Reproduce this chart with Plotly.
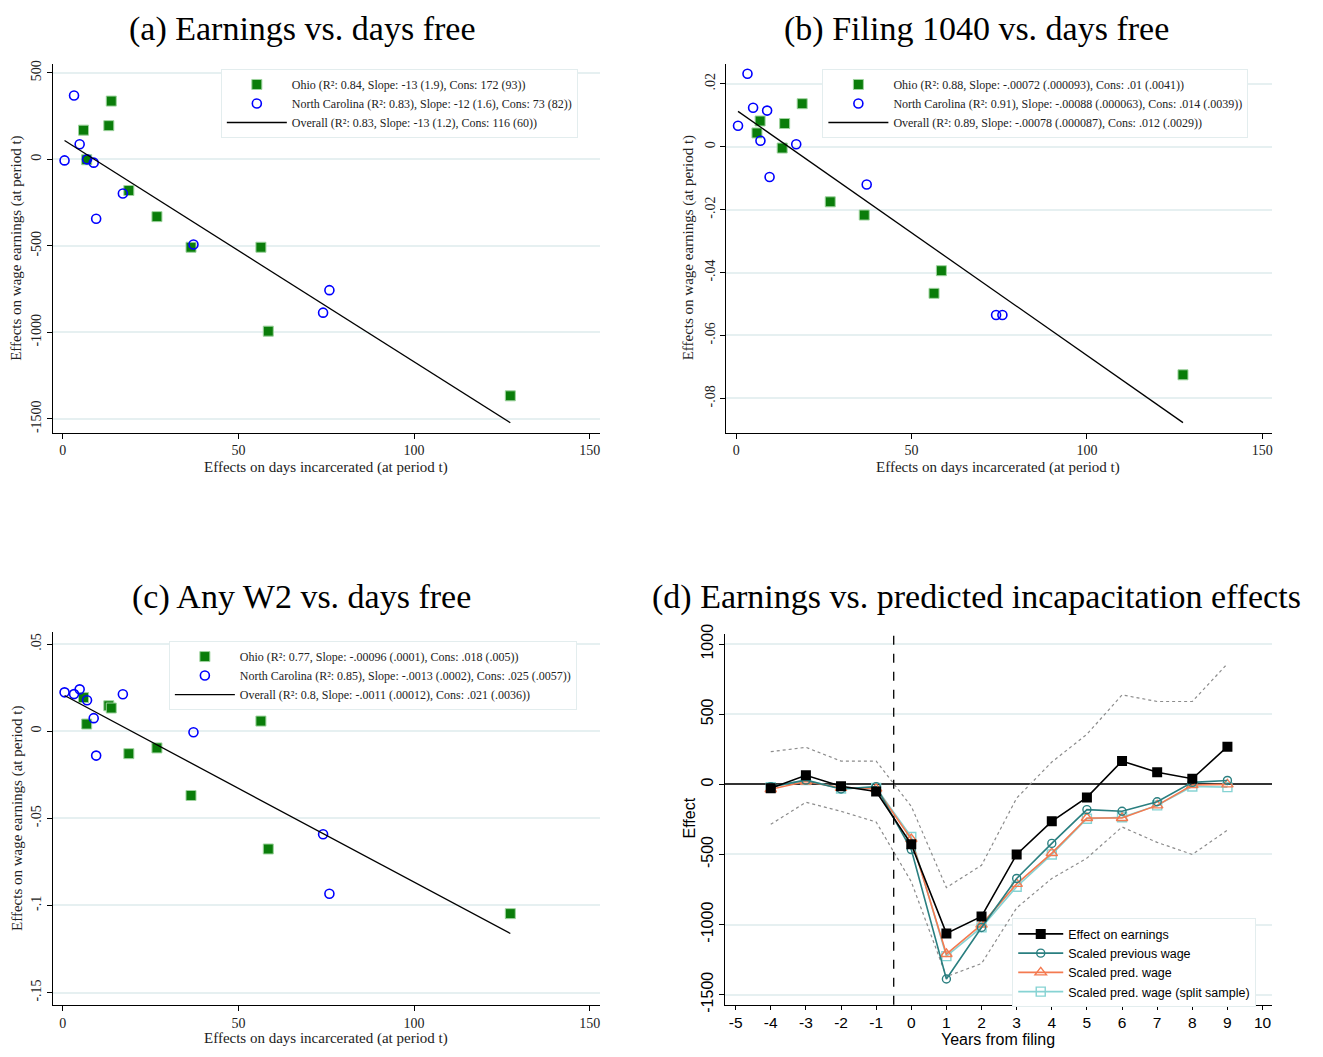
import numpy as np
import plotly.graph_objects as go

W, H = 1323, 1057

# ---------------- data ----------------
# days incarcerated effects (x) for each state
ohio_days = [5.9, 6.8, 13.1, 13.8, 18.8, 26.8, 36.5, 56.4, 58.5, 127.4]
nc_days = [0.5, 3.2, 4.8, 6.9, 8.8, 9.5, 17.1, 37.2, 74.1, 75.9]

# (a) earnings
ohio_earn = [169, -2, 195, 337, -180, -331, -508, -508, -993, -1367]
nc_earn = [-6, 369, 87, 0, -19, -343, -197, -492, -886, -756]
# (b) filing 1040
ohio_1040 = [0.0044, 0.0082, -0.0004, 0.0074, 0.0137, -0.0175, -0.0217, -0.0466, -0.0394, -0.0725]
nc_1040 = [0.0067, 0.0232, 0.0124, 0.0019, 0.0115, -0.0096, 0.0008, -0.0120, -0.0535, -0.0535]
# (c) any W2
ohio_w2 = [0.0193, 0.0041, 0.0146, 0.0133, -0.0129, -0.0096, -0.0369, 0.0058, -0.0676, -0.1047]
nc_w2 = [0.0223, 0.0213, 0.0240, 0.0178, 0.0075, -0.0140, 0.0212, -0.0006, -0.0591, -0.0933]

legend_a = ["Ohio (R\u00b2: 0.84, Slope: -13 (1.9), Cons: 172 (93))",
            "North Carolina (R\u00b2: 0.83), Slope: -12 (1.6), Cons: 73 (82))",
            "Overall (R\u00b2: 0.83, Slope: -13 (1.2), Cons: 116 (60))"]
legend_b = ["Ohio (R\u00b2: 0.88, Slope: -.00072 (.000093), Cons: .01 (.0041))",
            "North Carolina (R\u00b2: 0.91), Slope: -.00088 (.000063), Cons: .014 (.0039))",
            "Overall (R\u00b2: 0.89, Slope: -.00078 (.000087), Cons: .012 (.0029))"]
legend_c = ["Ohio (R\u00b2: 0.77, Slope: -.00096 (.0001), Cons: .018 (.005))",
            "North Carolina (R\u00b2: 0.85), Slope: -.0013 (.0002), Cons: .025 (.0057))",
            "Overall (R\u00b2: 0.8, Slope: -.0011 (.00012), Cons: .021 (.0036))"]

# (d) event study
years = [-4, -3, -2, -1, 0, 1, 2, 3, 4, 5, 6, 7, 8, 9]
effect_earn = [-28, 65, -14, -51, -428, -1063, -942, -500, -264, -93, 166, 86, 40, 269]
ci_upper = [233, 264, 166, 166, -157, -736, -577, -98, 159, 357, 638, 591, 591, 860]
ci_lower = [-285, -128, -192, -269, -694, -1371, -1278, -881, -671, -526, -304, -414, -500, -327]
scaled_prev_wage = [-16, 30, -33, -16, -465, -1388, -1021, -671, -421, -180, -192, -124, 14, 28]
scaled_pred_wage = [-35, 20, -25, -30, -390, -1210, -1000, -710, -490, -240, -240, -150, -5, 0]
scaled_pred_split = [-20, 30, -30, -25, -375, -1225, -1020, -730, -500, -245, -235, -150, -15, -20]
filing_line = -0.5

titles = ["(a) Earnings vs. days free", "(b) Filing 1040 vs. days free",
          "(c) Any W2 vs. days free", "(d) Earnings vs. predicted incapacitation effects"]
xlab_scatter = "Effects on days incarcerated (at period t)"
ylab_scatter = "Effects on wage earnings (at period t)"
xlab_d, ylab_d = "Years from filing", "Effect"

x_ticks_scatter = [0, 50, 100, 150]
y_ticks_a, y_text_a = [500, 0, -500, -1000, -1500], ["500", "0", "-500", "-1000", "-1500"]
y_ticks_b, y_text_b = [0.02, 0, -0.02, -0.04, -0.06, -0.08], [".02", "0", "-.02", "-.04", "-.06", "-.08"]
y_ticks_c, y_text_c = [0.05, 0, -0.05, -0.1, -0.15], [".05", "0", "-.05", "-.1", "-.15"]
x_ticks_d = list(range(-5, 11))
x_text_d = [str(v) for v in x_ticks_d]
y_ticks_d, y_text_d = [1000, 500, 0, -500, -1000, -1500], ["1000", "500", "0", "-500", "-1000", "-1500"]

# ---------------- styling ----------------
SERIF = "Liberation Serif"
SANS = "Liberation Sans"
GREEN = "#0A7D0A"
BLUE = "#0000FF"
GRID = "#E6F0F1"
TEAL = "#2A7F80"
ORANGE = "#F47A50"
LIGHT = "#86D3D3"


def px(x):
    return x / W


def py(y):
    return 1 - y / H


fig = go.Figure()

panels = [
    (ohio_earn, nc_earn, legend_a, "x", "y", "legend"),
    (ohio_1040, nc_1040, legend_b, "x2", "y2", "legend2"),
    (ohio_w2, nc_w2, legend_c, "x3", "y3", "legend3"),
]
for oy, ny, leg, xa, ya, lg in panels:
    fig.add_trace(go.Scatter(x=ohio_days, y=oy, mode="markers", name=leg[0], xaxis=xa, yaxis=ya, legend=lg,
                             marker=dict(symbol="square", size=10, color=GREEN,
                                         line=dict(width=1, color="#9ED39E"))))
    fig.add_trace(go.Scatter(x=nc_days, y=ny, mode="markers", name=leg[1], xaxis=xa, yaxis=ya, legend=lg,
                             marker=dict(symbol="circle-open", size=9, color=BLUE, line=dict(width=1.6))))
    allx = np.array(ohio_days + nc_days)
    ally = np.array(oy + ny)
    b, a = np.polyfit(allx, ally, 1)
    xs = np.array([allx.min(), allx.max()])
    fig.add_trace(go.Scatter(x=xs, y=a + b * xs, mode="lines", name=leg[2], xaxis=xa, yaxis=ya, legend=lg,
                             line=dict(color="black", width=1.3)))

# panel d
fig.add_trace(go.Scatter(x=years, y=ci_upper, mode="lines", showlegend=False, xaxis="x4", yaxis="y4",
                         line=dict(color="#8C8C8C", width=1.2, dash="dot")))
fig.add_trace(go.Scatter(x=years, y=ci_lower, mode="lines", showlegend=False, xaxis="x4", yaxis="y4",
                         line=dict(color="#8C8C8C", width=1.2, dash="dot")))
fig.add_trace(go.Scatter(x=years, y=scaled_pred_split, mode="lines+markers", name="Scaled pred. wage (split sample)",
                         xaxis="x4", yaxis="y4", legend="legend4",
                         line=dict(color=LIGHT, width=1.6),
                         marker=dict(symbol="square-open", size=9, color=LIGHT, line=dict(width=1.4))))
fig.add_trace(go.Scatter(x=years, y=scaled_pred_wage, mode="lines+markers", name="Scaled pred. wage",
                         xaxis="x4", yaxis="y4", legend="legend4",
                         line=dict(color=ORANGE, width=1.6),
                         marker=dict(symbol="triangle-up-open", size=10, color=ORANGE, line=dict(width=1.4))))
fig.add_trace(go.Scatter(x=years, y=scaled_prev_wage, mode="lines+markers", name="Scaled previous wage",
                         xaxis="x4", yaxis="y4", legend="legend4",
                         line=dict(color=TEAL, width=1.6),
                         marker=dict(symbol="circle-open", size=8, color=TEAL, line=dict(width=1.4))))
fig.add_trace(go.Scatter(x=years, y=effect_earn, mode="lines+markers", name="Effect on earnings",
                         xaxis="x4", yaxis="y4", legend="legend4",
                         line=dict(color="black", width=1.6),
                         marker=dict(symbol="square", size=10, color="black")))

fig.add_shape(type="line", xref="x4", yref="y4 domain", x0=filing_line, x1=filing_line, y0=0, y1=1,
              line=dict(color="black", width=1.3, dash="dash"))

# ---------------- axes ----------------
def xaxis_common(domain, anchor, ticks, text, rng, font):
    return dict(domain=domain, anchor=anchor, range=rng, tickvals=ticks, ticktext=text,
                showline=True, linecolor="black", linewidth=1, ticks="outside", ticklen=5,
                tickcolor="black", showgrid=False, zeroline=False, tickfont=font)


def yaxis_common(domain, anchor, ticks, text, rng, font):
    return dict(domain=domain, anchor=anchor, range=rng, tickvals=ticks, ticktext=text,
                showline=True, linecolor="black", linewidth=1, ticks="outside", ticklen=5,
                tickcolor="black", showgrid=True, gridcolor=GRID, gridwidth=1.5, zeroline=False,
                tickangle=-90, tickfont=font)


sfont = dict(family=SERIF, size=14, color="#222")
dfont = dict(family=SANS, size=16, color="black")
dfont_x = dict(family=SANS, size=15.5, color="black")
xa_dom_L = [px(53), px(600)]
xa_dom_R = [px(727), px(1273)]
xa_dom_D = [px(726), px(1273)]
ya_dom_T = [py(430), py(55)]
ya_dom_B3 = [py(1012), py(633)]
ya_dom_B4 = [py(1012), py(635)]

xr = [-2.8, 152.8]
fig.update_layout(
    xaxis=xaxis_common(xa_dom_L, "y", x_ticks_scatter, [str(v) for v in x_ticks_scatter], xr, sfont),
    yaxis=yaxis_common(ya_dom_T, "x", y_ticks_a, y_text_a, [-1580, 551], sfont),
    xaxis2=xaxis_common(xa_dom_R, "y2", x_ticks_scatter, [str(v) for v in x_ticks_scatter], xr, sfont),
    yaxis2=yaxis_common(ya_dom_T, "x2", y_ticks_b, y_text_b, [-0.0909, 0.0263], sfont),
    xaxis3=xaxis_common(xa_dom_L, "y3", x_ticks_scatter, [str(v) for v in x_ticks_scatter], xr, sfont),
    yaxis3=yaxis_common(ya_dom_B3, "x3", y_ticks_c, y_text_c, [-0.157, 0.0568], sfont),
    xaxis4=xaxis_common(xa_dom_D, "y4", x_ticks_d, x_text_d, [-5.29, 10.27], dfont_x),
    yaxis4=yaxis_common(ya_dom_B4, "x4", y_ticks_d, y_text_d, [-1572, 1071], dfont),
)
fig.layout.yaxis4.zeroline = True
fig.layout.yaxis4.zerolinecolor = "#333333"
fig.layout.yaxis4.zerolinewidth = 2
fig.layout.xaxis4.ticklen = 4

# ---------------- legends ----------------
def scatter_legend(x0, y0):
    return dict(x=px(x0), y=py(y0), xanchor="left", yanchor="top", bgcolor="white",
                bordercolor="#E3EDEE", borderwidth=1, font=dict(family=SERIF, size=12, color="#222"),
                itemwidth=60, tracegroupgap=0, itemclick=False)


fig.update_layout(
    legend=scatter_legend(221, 60),
    legend2=scatter_legend(823, 60),
    legend3=scatter_legend(169, 642),
    legend4=dict(x=px(1013), y=py(924), xanchor="left", yanchor="top", bgcolor="white",
                 bordercolor="#E3EDEE", borderwidth=1, font=dict(family=SANS, size=12.5, color="black"),
                 itemwidth=45, traceorder="reversed"),
)

# ---------------- titles and axis labels ----------------
ann = []
title_pos = [(302, 0, "top", 2), (977, 0, "top", 2), (302, 597, "middle", 0), (977, 597, "middle", 0)]
for t, (xx, yy, anc, shift) in zip(titles, title_pos):
    ann.append(dict(text=t, x=px(xx), y=py(yy), xref="paper", yref="paper", showarrow=False,
                    xanchor="center", yanchor=anc, yshift=shift,
                    font=dict(family=SERIF, size=34, color="black")))
for (xx, yy) in [(326, 465), (999, 465), (326, 1046)]:
    ann.append(dict(text=xlab_scatter, x=px(xx), y=py(yy), xref="paper", yref="paper", showarrow=False,
                    xanchor="center", yanchor="middle", font=dict(family=SERIF, size=15, color="#222")))
for (xx, yy) in [(17, 242), (689, 242), (17, 822)]:
    ann.append(dict(text=ylab_scatter, x=px(xx), y=py(yy), xref="paper", yref="paper", showarrow=False,
                    xanchor="center", yanchor="middle", textangle=-90,
                    font=dict(family=SERIF, size=15, color="#222")))
ann.append(dict(text=xlab_d, x=px(999), y=py(1047), xref="paper", yref="paper", showarrow=False,
                xanchor="center", yanchor="middle", font=dict(family=SANS, size=16, color="black")))
ann.append(dict(text=ylab_d, x=px(690), y=py(822), xref="paper", yref="paper", showarrow=False,
                xanchor="center", yanchor="middle", textangle=-90, font=dict(family=SANS, size=16, color="black")))

fig.update_layout(annotations=ann, width=W, height=H, margin=dict(l=0, r=0, t=0, b=0),
                  paper_bgcolor="white", plot_bgcolor="white")

fig.write_html("out.html", config={"displayModeBar": False},
               post_script="document.body.style.margin='0px';document.body.style.overflow='hidden';")
